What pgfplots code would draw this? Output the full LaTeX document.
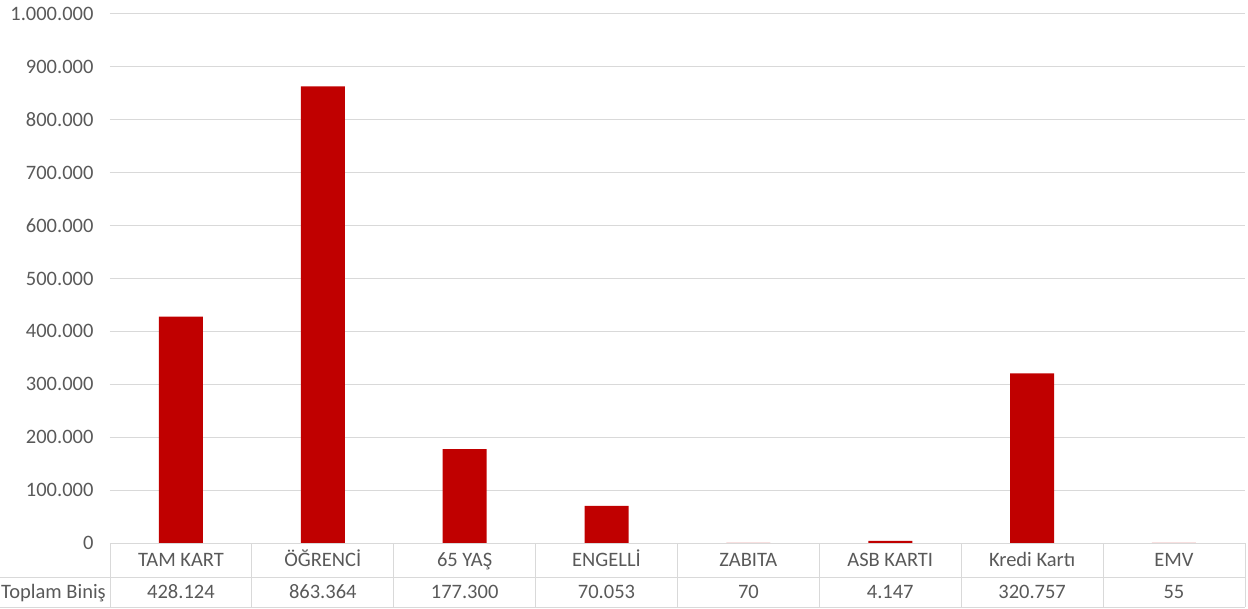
\documentclass[border=0pt]{standalone}
\usepackage{fontspec}
\setmainfont{Carlito}
\usepackage{pgfplots}
\pgfplotsset{compat=1.18}
\definecolor{barred}{HTML}{C00000}
\definecolor{txtc}{HTML}{595959}
\definecolor{gridc}{HTML}{D9D9D9}
\begin{document}
\begin{tikzpicture}
\useasboundingbox (-110bp,-66bp) rectangle (1138bp,543bp);
\begin{axis}[at={(0,0)}, anchor=south west, scale only axis,
  width=1135bp, height=529bp,
  xmin=-0.5, xmax=7.5, ymin=0, ymax=1000000,
  ytick={0,100000,200000,300000,400000,500000,600000,700000,800000,900000,1000000},
  yticklabels={0,100.000,200.000,300.000,400.000,500.000,600.000,700.000,800.000,900.000,1.000.000},
  scaled y ticks=false,
  ymajorgrids, grid style={gridc, line width=1bp},
  axis line style={draw=none}, major tick length=0,
  xtick={0,1,2,3,4,5,6,7},
  xticklabels={TAM KART,ÖĞRENCİ,65 YAŞ,ENGELLİ,ZABITA,ASB KARTI,Kredi Kartı,EMV},
  extra x ticks={0,1,2,3,4,5,6,7},
  extra x tick labels={428.124,863.364,177.300,70.053,70,4.147,320.757,55},
  extra x tick style={xticklabel style={yshift=-32bp}},
  xticklabel style={anchor=center, yshift=-17bp, text height=13bp, text depth=0bp},
  tick label style={font=\fontsize{20.5bp}{24bp}\selectfont, text=txtc},
  yticklabel style={anchor=east, xshift=-13bp},
]
\addplot[ybar, bar width=44bp, fill=barred, draw=none] coordinates {
 (0,428124) (1,863364) (2,177300) (3,70053) (4,70) (5,4147) (6,320757) (7,55)};
\end{axis}
\draw[gridc, line width=1bp] (-110bp,-34bp) -- (1135bp,-34bp);
\draw[gridc, line width=1bp] (-110bp,-64bp) -- (1135bp,-64bp);
\foreach \i in {0,...,8} \draw[gridc, line width=1bp] (\i*141.875bp,0) -- (\i*141.875bp,-64bp);
\node[anchor=east, inner sep=0pt, text=txtc, font=\fontsize{20.5bp}{24bp}\selectfont, text height=13bp, text depth=0bp] at (-4bp,-49bp) {Toplam Biniş};
\end{tikzpicture}
\end{document}
